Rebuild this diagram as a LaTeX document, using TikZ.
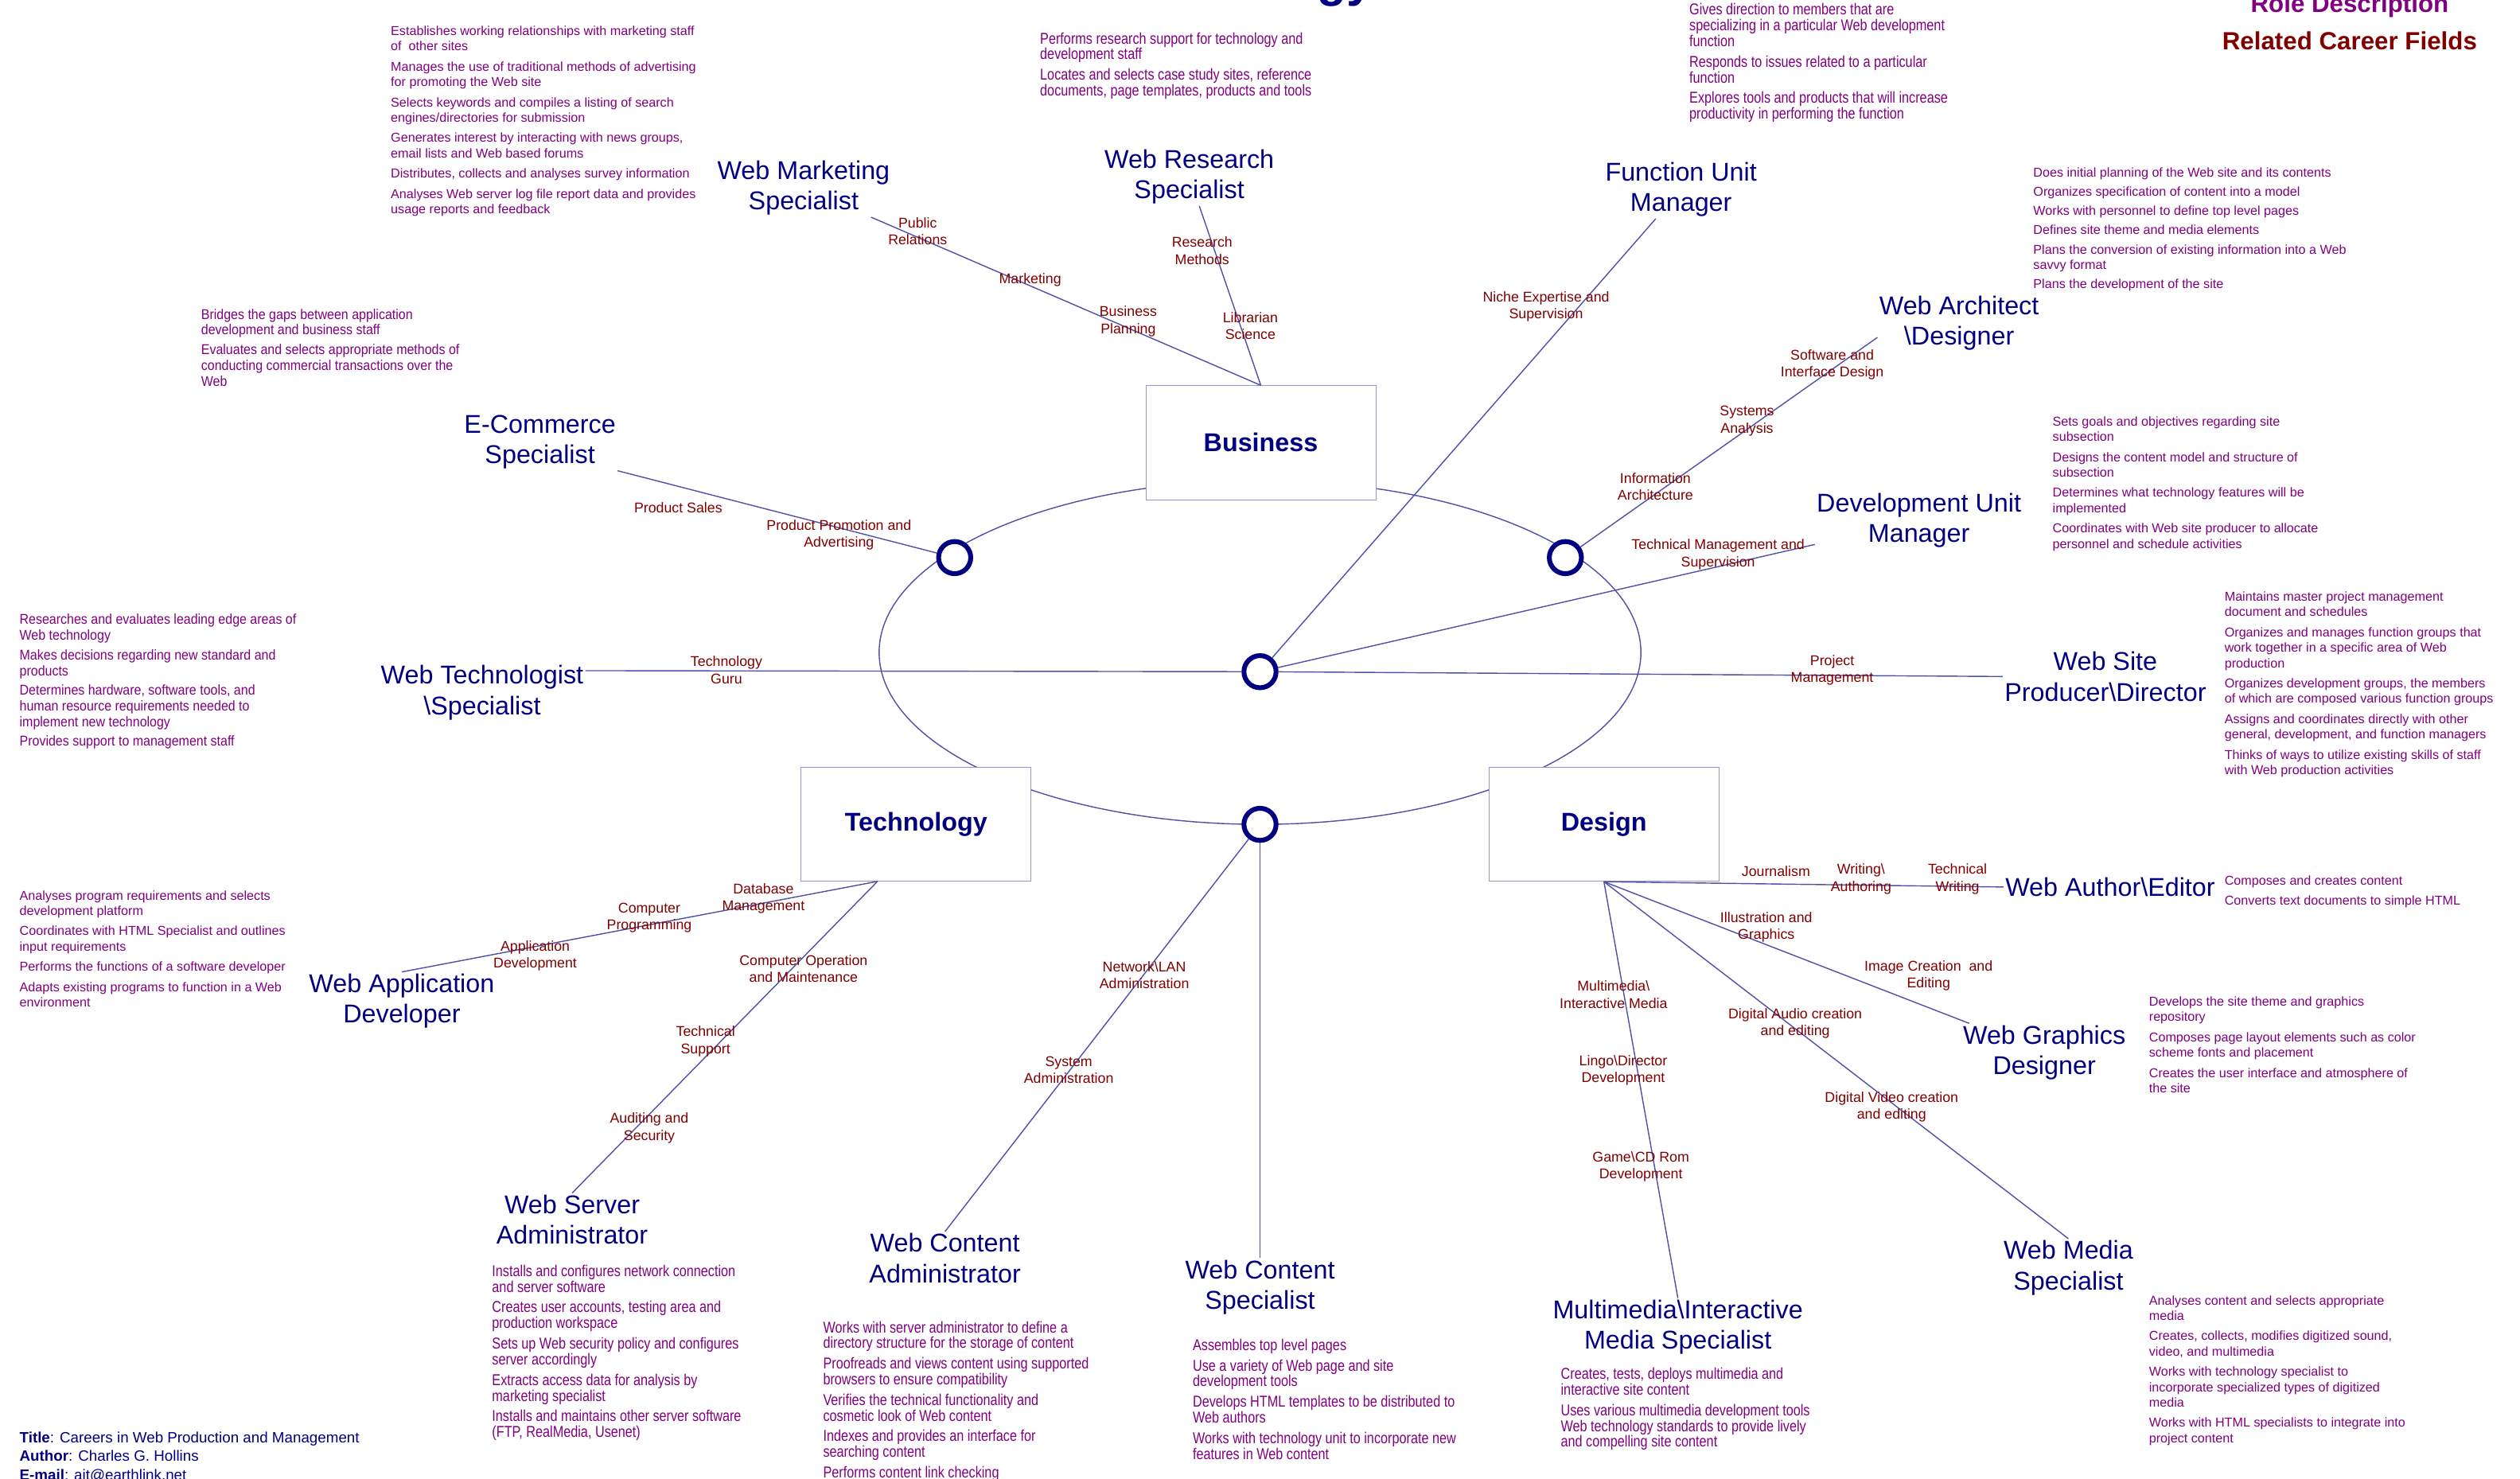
\documentclass[tikz,border=0pt]{standalone}
\usepackage{fontspec}
\setmainfont{Liberation Sans}
\newfontfamily\narrowfont[FakeStretch=0.82]{Liberation Sans}
\newfontfamily\semifont[FakeStretch=0.9]{Liberation Sans}
\usetikzlibrary{positioning}
\definecolor{rolenavy}{RGB}{0,0,128}
\definecolor{rolepurple}{RGB}{128,0,128}
\definecolor{fieldred}{RGB}{128,0,0}
\definecolor{linkblue}{RGB}{80,80,170}
\definecolor{boxgray}{RGB}{150,150,200}

\begin{document}
\begin{tikzpicture}[x=1pt, y=-1pt,
    role/.style = {text=rolenavy, align=center, inner sep=1pt, yshift=-2pt, font=\fontsize{16}{19}\selectfont},
    desc/.style = {text=rolepurple, align=left, anchor=north west, inner sep=0pt, font=\fontsize{8}{9.6}\selectfont},
    descnarrow/.style = {desc, font=\narrowfont\fontsize{9.8}{9.8}\selectfont},
    descsemi/.style = {desc, font=\semifont\fontsize{8.8}{9.8}\selectfont},
    field/.style = {text=fieldred, align=center, inner sep=0pt, font=\fontsize{8.8}{10.5}\selectfont},
    unit/.style = {draw=boxgray, fill=white, minimum width=143pt, minimum height=71pt, text=rolenavy, font=\fontsize{16}{19}\selectfont\bfseries},
    hubring/.style = {draw=rolenavy, line width=3pt, fill=white, circle, minimum size=20pt, inner sep=0pt},
    link/.style = {draw=linkblue, line width=0.7pt},
    legend/.style = {anchor=base, inner sep=0pt, font=\fontsize{15.5}{18}\selectfont\bfseries}]
    \useasboundingbox (0,0) rectangle (1568,920);

    \node[anchor=base east, inner sep=0pt, text=rolenavy, font=\fontsize{30}{36}\selectfont\bfseries] (ttl) at (855,-2) {gy};
    \node[legend, text=rolepurple] (legrole) at (1462,7.5) {Role Description};
    \node[legend, text=fieldred] (legfield) at (1462,31) {Related Career Fields};

    \draw[link] (784,406) ellipse [x radius=237pt, y radius=107pt];

    \node[unit] (biz) at (784.5,275.5) {Business};
    \node[unit] (tech) at (570,513) {Technology};
    \node[unit] (dsgn) at (998,513) {Design};
    \coordinate (techhub) at (546,548.5);

    \node[hubring] (hubL) at (594,347) {};
    \node[hubring] (hubR) at (974,347) {};
    \node[hubring] (hub) at (784,418) {};
    \node[hubring] (hubB) at (784,513) {};

    \node[role] (mkt) at (500,115) {Web Marketing\\Specialist};
    \node[role] (rsch) at (740,108) {Web Research\\Specialist};
    \node[role] (func) at (1046,116) {Function Unit\\Manager};
    \node[role] (arch) at (1219,199) {Web Architect\\\textbackslash Designer};
    \node[role] (devmgr) at (1194,322) {Development Unit\\Manager};
    \node[role] (prod) at (1310,419) {Web Site\\Producer\textbackslash Director};
    \node[role] (ecom) at (336,273) {E-Commerce\\Specialist};
    \node[role] (techn) at (300,429) {Web Technologist\\\textbackslash Specialist};
    \node[role] (appdev) at (250,621) {Web Application\\Developer};
    \node[role] (srv) at (356,757) {Web Server\\Administrator};
    \node[role] (cadmin) at (588,781) {Web Content\\Administrator};
    \node[role] (cspec) at (784,799) {Web Content\\Specialist};
    \node[role] (author) at (1313,550) {Web Author\textbackslash Editor};
    \node[role] (graph) at (1272,653) {Web Graphics\\Designer};
    \node[role] (media) at (1287,787) {Web Media\\Specialist};
    \node[role] (mmedia) at (1044,824) {Multimedia\textbackslash Interactive\\Media Specialist};

    \draw[link] (mkt) -- (biz.north);
    \draw[link] (rsch) -- (biz.north);
    \draw[link] (func) -- (hub);
    \draw[link] (arch.190) -- (hubR);
    \draw[link] (devmgr) -- (hub);
    \draw[link] (prod.west) -- (hub);
    \draw[link] (ecom.south east) -- (hubL);
    \draw[link] (techn.12) -- (hub);
    \draw[link] (techhub) -- (appdev.north);
    \draw[link] (techhub) -- (srv.north);
    \draw[link] (hubB) -- (cadmin.north);
    \draw[link] (hubB) -- (cspec.north);
    \draw[link] (dsgn.south) -- (author.west);
    \draw[link] (dsgn.south) -- (graph);
    \draw[link] (dsgn.south) -- (media.north);
    \draw[link] (dsgn.south) -- (mmedia.north);

    \node[field] (pubrel) at (571,144) {Public\\Relations};
    \node[field] (market) at (641,174) {Marketing};
    \node[field] (bizplan) at (702,200) {Business\\Planning};
    \node[field] (resmeth) at (748,156) {Research\\Methods};
    \node[field] (libsci) at (778,203) {Librarian\\Science};
    \node[field] (niche) at (962,191) {Niche Expertise and\\Supervision};
    \node[field] (softif) at (1140,227) {Software and\\Interface Design};
    \node[field] (sysan) at (1087,262) {Systems\\Analysis};
    \node[field] (infarch) at (1030,303) {Information\\Architecture};
    \node[field] (techmgt) at (1069,345) {Technical Management and\\Supervision};
    \node[field] (projmgt) at (1140,417) {Project\\Management};
    \node[field] (prodsales) at (422,316) {Product Sales};
    \node[field] (promo) at (522,333) {Product Promotion and\\Advertising};
    \node[field] (guru) at (452,417) {Technology\\Guru};
    \node[field] (dbmgt) at (475,559) {Database\\Management};
    \node[field] (comprog) at (404,571) {Computer\\Programming};
    \node[field] (appdevf) at (333,595) {Application\\Development};
    \node[field] (compop) at (500,603) {Computer Operation\\and Maintenance};
    \node[field] (techsup) at (439,648) {Technical\\Support};
    \node[field] (audit) at (404,702) {Auditing and\\Security};
    \node[field] (netadm) at (712,607) {Network\textbackslash LAN\\Administration};
    \node[field] (sysadm) at (665,666) {System\\Administration};
    \node[field] (journ) at (1105,542) {Journalism};
    \node[field] (writ) at (1158,547) {Writing\textbackslash\\Authoring};
    \node[field] (techwrit) at (1218,547) {Technical\\Writing};
    \node[field] (illus) at (1099,577) {Illustration and\\Graphics};
    \node[field] (imgcr) at (1200,607) {Image Creation\ \ and\\Editing};
    \node[field] (audio) at (1117,637) {Digital Audio creation\\and editing};
    \node[field] (video) at (1177,689) {Digital Video creation\\and editing};
    \node[field] (mmint) at (1004,619) {Multimedia\textbackslash\\Interactive Media};
    \node[field] (lingo) at (1010,666) {Lingo\textbackslash Director\\Development};
    \node[field] (game) at (1021,726) {Game\textbackslash CD Rom\\Development};

    \node[desc] (mktdesc) at (243,16) {Establishes working relationships with marketing staff\\of\ \ other sites\\[3pt]Manages the use of traditional methods of advertising\\for promoting the Web site\\[3pt]Selects keywords and compiles a listing of search\\engines/directories for submission\\[3pt]Generates interest by interacting with news groups,\\email lists and Web based forums\\[3pt]Distributes, collects and analyses survey information\\[3pt]Analyses Web server log file report data and provides\\usage reports and feedback};
    \node[descnarrow] (rschdesc) at (647,20) {Performs research support for technology and\\development staff\\[3pt]Locates and selects case study sites, reference\\documents, page templates, products and tools};
    \node[descnarrow] (funcdesc) at (1051,2) {Gives direction to members that are\\specializing in a particular Web development\\function\\[3pt]Responds to issues related to a particular\\function\\[3pt]Explores tools and products that will increase\\productivity in performing the function};
    \node[desc] (archdesc) at (1265,104) {Does initial planning of the Web site and its contents\\[2.4pt]Organizes specification of content into a model\\[2.4pt]Works with personnel to define top level pages\\[2.4pt]Defines site theme and media elements\\[2.4pt]Plans the conversion of existing information into a Web\\savvy format\\[2.4pt]Plans the development of the site};
    \node[desc] (devmgrdesc) at (1277,259) {Sets goals and objectives regarding site\\subsection\\[3pt]Designs the content model and structure of\\subsection\\[3pt]Determines what technology features will be\\implemented\\[3pt]Coordinates with Web site producer to allocate\\personnel and schedule activities};
    \node[desc] (proddesc) at (1384,368) {Maintains master project management\\document and schedules\\[3pt]Organizes and manages function groups that\\work together in a specific area of Web\\production\\[3pt]Organizes development groups, the members\\of which are composed various function groups\\[3pt]Assigns and coordinates directly with other\\general, development, and function managers\\[3pt]Thinks of ways to utilize existing skills of staff\\with Web production activities};
    \node[descsemi] (ecomdesc) at (125,192) {Bridges the gaps between application\\development and business staff\\[2.4pt]Evaluates and selects appropriate methods of\\conducting commercial transactions over the\\Web};
    \node[descsemi] (techndesc) at (12,382) {Researches and evaluates leading edge areas of\\Web technology\\[2.4pt]Makes decisions regarding new standard and\\products\\[2.4pt]Determines hardware, software tools, and\\human resource requirements needed to\\implement new technology\\[2.4pt]Provides support to management staff};
    \node[desc] (appdevdesc) at (12,554) {Analyses program requirements and selects\\development platform\\[3pt]Coordinates with HTML Specialist and outlines\\input requirements\\[3pt]Performs the functions of a software developer\\[3pt]Adapts existing programs to function in a Web\\environment};
    \node[descnarrow] (srvdesc) at (306,787) {Installs and configures network connection\\and server software\\[3pt]Creates user accounts, testing area and\\production workspace\\[3pt]Sets up Web security policy and configures\\server accordingly\\[3pt]Extracts access data for analysis by\\marketing specialist\\[3pt]Installs and maintains other server software\\(FTP, RealMedia, Usenet)};
    \node[descnarrow] (cadmindesc) at (512,822) {Works with server administrator to define a\\directory structure for the storage of content\\[3pt]Proofreads and views content using supported\\browsers to ensure compatibility\\[3pt]Verifies the technical functionality and\\cosmetic look of Web content\\[3pt]Indexes and provides an interface for\\searching content\\[3pt]Performs content link checking};
    \node[descnarrow] (cspecdesc) at (742,833) {Assembles top level pages\\[3pt]Use a variety of Web page and site\\development tools\\[3pt]Develops HTML templates to be distributed to\\Web authors\\[3pt]Works with technology unit to incorporate new\\features in Web content};
    \node[descnarrow] (mmediadesc) at (971,851) {Creates, tests, deploys multimedia and\\interactive site content\\[3pt]Uses various multimedia development tools\\Web technology standards to provide lively\\and compelling site content};
    \node[desc] (authordesc) at (1384,545) {Composes and creates content\\[2.4pt]Converts text documents to simple HTML};
    \node[desc] (graphdesc) at (1337,620) {Develops the site theme and graphics\\repository\\[3pt]Composes page layout elements such as color\\scheme fonts and placement\\[3pt]Creates the user interface and atmosphere of\\the site};
    \node[desc] (mediadesc) at (1337,806) {Analyses content and selects appropriate\\media\\[3pt]Creates, collects, modifies digitized sound,\\video, and multimedia\\[3pt]Works with technology specialist to\\incorporate specialized types of digitized\\media\\[3pt]Works with HTML specialists to integrate into\\project content};

    \node[anchor=north west, inner sep=0pt, align=left, text=rolenavy, font=\fontsize{9.3}{11.5}\selectfont] (credits) at (12,891) {\textbf{Title}: Careers in Web Production and Management\\\textbf{Author}: Charles G. Hollins\\\textbf{E-mail}: ait@earthlink.net};
\end{tikzpicture}
\end{document}
